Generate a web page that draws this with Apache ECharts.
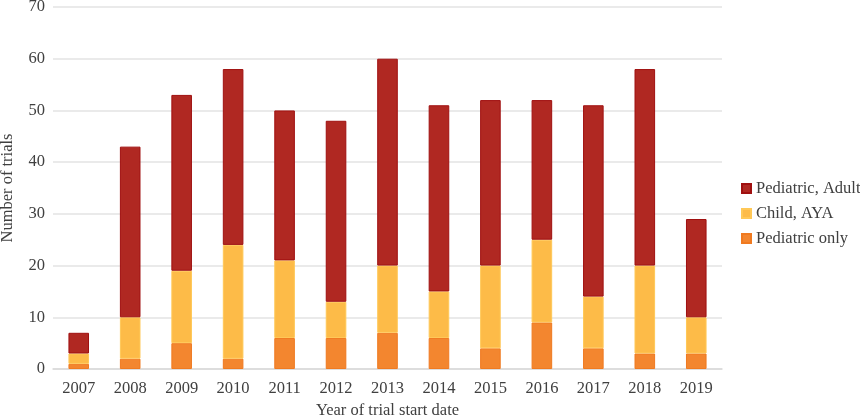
<!DOCTYPE html>
<html>
<head>
<meta charset="utf-8">
<script src="https://cdn.jsdelivr.net/npm/echarts@6/dist/echarts.min.js"></script>
<style>html,body{margin:0;padding:0;background:#fff}#c{width:860px;height:415px}</style>
</head>
<body>
<div id="c"></div>
<script>
var years = ['2007','2008','2009','2010','2011','2012','2013','2014','2015','2016','2017','2018','2019'];
var pediatricOnly = [1, 2, 5, 2, 6, 6, 7, 6, 4, 9, 4, 3, 3];
var childAYA = [2, 8, 14, 22, 15, 7, 13, 9, 16, 16, 10, 17, 7];
var pediatricAdult = [4, 33, 34, 34, 29, 35, 40, 36, 32, 27, 37, 38, 19];
var yTicks = {min: 0, max: 70, interval: 10};

var font = 'Liberation Serif';
var fs = 16.5;
var chart = echarts.init(document.getElementById('c'));
function s(name, data, color, border) {
  return {
    name: name, type: 'bar', stack: 'total', data: data, barWidth: '40%',
    itemStyle: {color: color, borderColor: border, borderWidth: 1},
    emphasis: {disabled: true}
  };
}
chart.setOption({
  animation: false,
  textStyle: {fontFamily: font},
  grid: {left: 53, right: 138, top: 7, bottom: 46, containLabel: false, outerBoundsMode: 'none'},
  legend: {
    orient: 'vertical', left: 736, top: 175,
    itemWidth: 9, itemHeight: 9, itemGap: 8,
    icon: 'rect',
    textStyle: {fontFamily: font, fontSize: fs, color: '#404040'},
    data: ['Pediatric, Adult', 'Child, AYA', 'Pediatric only']
  },
  xAxis: {
    type: 'category', data: years,
    name: 'Year of trial start date', nameLocation: 'middle', nameGap: 29,
    nameTextStyle: {fontFamily: font, fontSize: fs, color: '#404040'},
    axisLine: {lineStyle: {color: '#d9d9d9', width: 1.5}},
    axisTick: {show: false},
    axisLabel: {fontFamily: font, fontSize: fs, color: '#404040', margin: 11}
  },
  yAxis: {
    type: 'value', min: yTicks.min, max: yTicks.max, interval: yTicks.interval,
    name: 'Number of trials', nameLocation: 'middle', nameGap: 37,
    nameTextStyle: {fontFamily: font, fontSize: fs, color: '#404040'},
    axisLine: {show: false}, axisTick: {show: false},
    axisLabel: {fontFamily: font, fontSize: fs, color: '#404040', margin: 8},
    splitLine: {lineStyle: {color: '#e3e3e3', width: 1.5}}
  },
  series: [
    s('Pediatric only', pediatricOnly, '#F3862F', '#F07A20'),
    s('Child, AYA', childAYA, '#FDBB48', '#FFC857'),
    s('Pediatric, Adult', pediatricAdult, '#B02822', '#A01010')
  ]
});
</script>
</body>
</html>
